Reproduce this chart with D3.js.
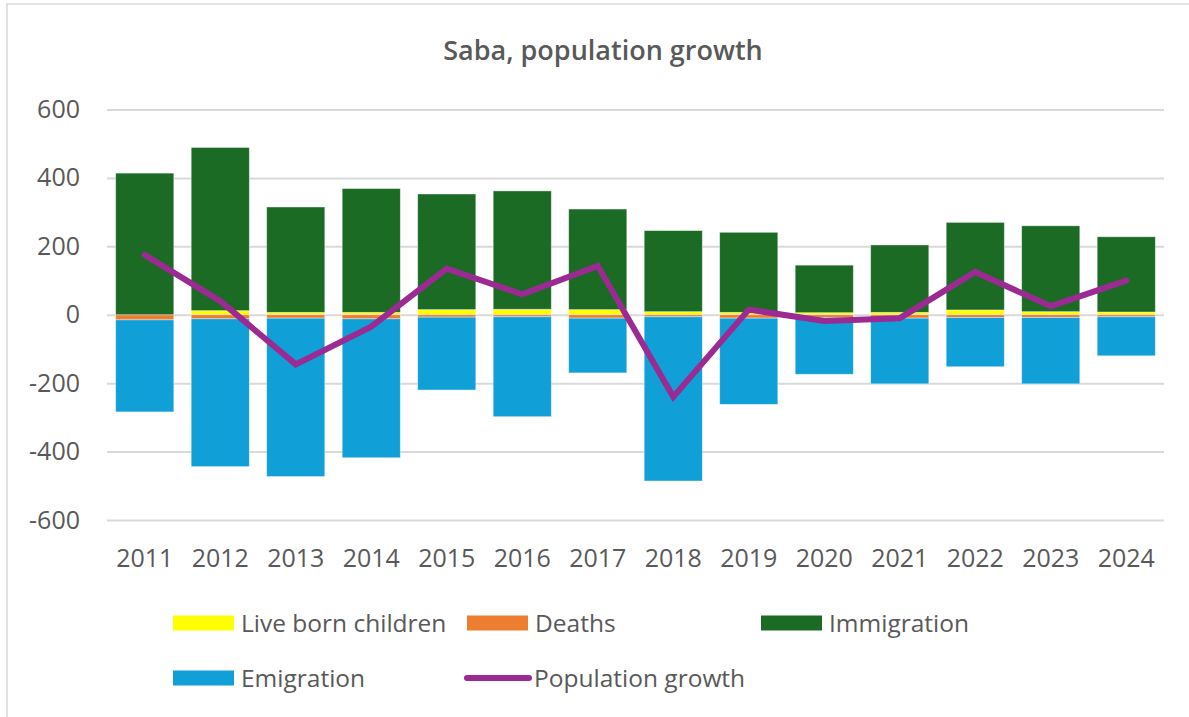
<!DOCTYPE html>
<html>
<head>
<meta charset="utf-8">
<script src="https://cdn.jsdelivr.net/npm/d3@7"></script>
<style>
  body { margin: 0; background: #ffffff; }
  text { font-family: "Open Sans", sans-serif; fill: #595959; }
</style>
</head>
<body>
<div id="chart"></div>
<script>
// values
var years = ["2011", "2012", "2013", "2014", "2015", "2016", "2017", "2018", "2019", "2020", "2021", "2022", "2023", "2024"];
var liveBorn = [0, 12, 7, 7, 15, 16, 15, 9, 7, 6, 7, 14, 9, 8];
var deaths = [-15, -12, -10, -12, -7, -6, -10, -6, -10, -8, -10, -8, -8, -6];
var immigration = [414, 477, 308, 362, 338, 346, 294, 237, 234, 139, 197, 256, 251, 220];
var emigration = [-269, -432, -463, -406, -213, -292, -160, -480, -252, -166, -192, -144, -194, -114];
var growth = [175, 40, -145, -35, 135, 60, 143, -240, 15, -18, -10, 125, 25, 100];
var yTicks = [-600, -400, -200, 0, 200, 400, 600];

var keys = ["liveBorn", "deaths", "immigration", "emigration"];
var colors = {
    liveBorn: "#ffff00",
    deaths: "#ed7d31",
    immigration: "#1b6b25",
    emigration: "#109fd6"
};
var lineColor = "#9c2a93";

var W = 1189, H = 717;
var plotLeft = 107, plotRight = 1164, plotTop = 109.5, plotBottom = 520;

var table = years.map(function (y, i) {
    return {
        year: y,
        liveBorn: liveBorn[i],
        deaths: deaths[i],
        immigration: immigration[i],
        emigration: emigration[i],
        growth: growth[i]
    };
});

var svg = d3.select("#chart")
    .append("svg")
    .attr("width", W)
    .attr("height", H);

// chart frame
svg.append("rect")
    .attr("x", 7)
    .attr("y", 4)
    .attr("width", W + 20)
    .attr("height", H + 20)
    .attr("fill", "#ffffff")
    .attr("stroke", "#d9d9d9")
    .attr("stroke-width", 1.5);

var x = d3.scaleBand()
    .domain(years)
    .range([plotLeft, plotRight])
    .paddingInner(0.23)
    .paddingOuter(0.115);

var y = d3.scaleLinear()
    .domain([-600, 600])
    .range([plotBottom, plotTop]);

// gridlines + y labels
var yAxis = svg.append("g")
    .attr("class", "yaxis")
    .attr("transform", "translate(" + plotLeft + ",0)")
    .call(d3.axisLeft(y)
        .tickValues(yTicks)
        .tickSize(-(plotRight - plotLeft))
        .tickPadding(27)
        .tickFormat(function (d) { return String(d); }));
yAxis.select(".domain").remove();
yAxis.selectAll("line")
    .attr("stroke", "#d9d9d9")
    .attr("stroke-width", 2);
yAxis.selectAll("text")
    .attr("font-size", "25px")
    .attr("fill", "#595959");

// x labels
var xAxis = svg.append("g")
    .attr("class", "xaxis")
    .attr("transform", "translate(0," + plotBottom + ")")
    .call(d3.axisBottom(x).tickSize(0).tickPadding(29));
xAxis.select(".domain").remove();
xAxis.selectAll("text")
    .attr("font-size", "25px")
    .attr("fill", "#595959");

// stacked bars
var series = d3.stack()
    .keys(keys)
    .offset(d3.stackOffsetDiverging)(table);

svg.append("g")
    .selectAll("g")
    .data(series)
    .enter()
    .append("g")
    .attr("fill", function (d) { return colors[d.key]; })
    .selectAll("rect")
    .data(function (d) { return d; })
    .enter()
    .append("rect")
    .attr("x", function (d) { return x(d.data.year); })
    .attr("y", function (d) { return y(Math.max(d[0], d[1])); })
    .attr("width", x.bandwidth())
    .attr("height", function (d) { return Math.abs(y(d[0]) - y(d[1])); })
    .attr("stroke", "#ffffff")
    .attr("stroke-opacity", 0.5)
    .attr("stroke-width", 0.8);

// population growth line
var line = d3.line()
    .x(function (d) { return x(d.year) + x.bandwidth() / 2; })
    .y(function (d) { return y(d.growth); });

svg.append("path")
    .datum(table)
    .attr("d", line)
    .attr("fill", "none")
    .attr("stroke", lineColor)
    .attr("stroke-width", 6)
    .attr("stroke-linejoin", "miter")
    .attr("stroke-linecap", "round");

// title
svg.append("text")
    .attr("x", 603)
    .attr("y", 60)
    .attr("text-anchor", "middle")
    .attr("font-size", "27px")
    .attr("font-weight", 600)
    .attr("fill", "#595959")
    .text("Saba, population growth");

// legend
var legendItems = [
    { label: "Live born children", key: "liveBorn", x: 173, y: 623 },
    { label: "Deaths", key: "deaths", x: 467, y: 623 },
    { label: "Immigration", key: "immigration", x: 761, y: 623 },
    { label: "Emigration", key: "emigration", x: 173, y: 678 },
    { label: "Population growth", key: "line", x: 467, y: 678 }
];

var legend = svg.append("g").attr("class", "legend");
legendItems.forEach(function (item) {
    if (item.key === "line") {
        legend.append("line")
            .attr("x1", item.x)
            .attr("x2", item.x + 62)
            .attr("y1", item.y)
            .attr("y2", item.y)
            .attr("stroke", lineColor)
            .attr("stroke-width", 6)
            .attr("stroke-linecap", "round");
    } else {
        legend.append("rect")
            .attr("x", item.x)
            .attr("y", item.y - 7.5)
            .attr("width", 61)
            .attr("height", 15)
            .attr("fill", colors[item.key]);
    }
    legend.append("text")
        .attr("x", item.x + (item.key === "line" ? 67 : 68))
        .attr("y", item.y)
        .attr("dy", "0.35em")
        .attr("font-size", "24.5px")
        .attr("fill", "#595959")
        .text(item.label);
});
</script>
</body>
</html>
